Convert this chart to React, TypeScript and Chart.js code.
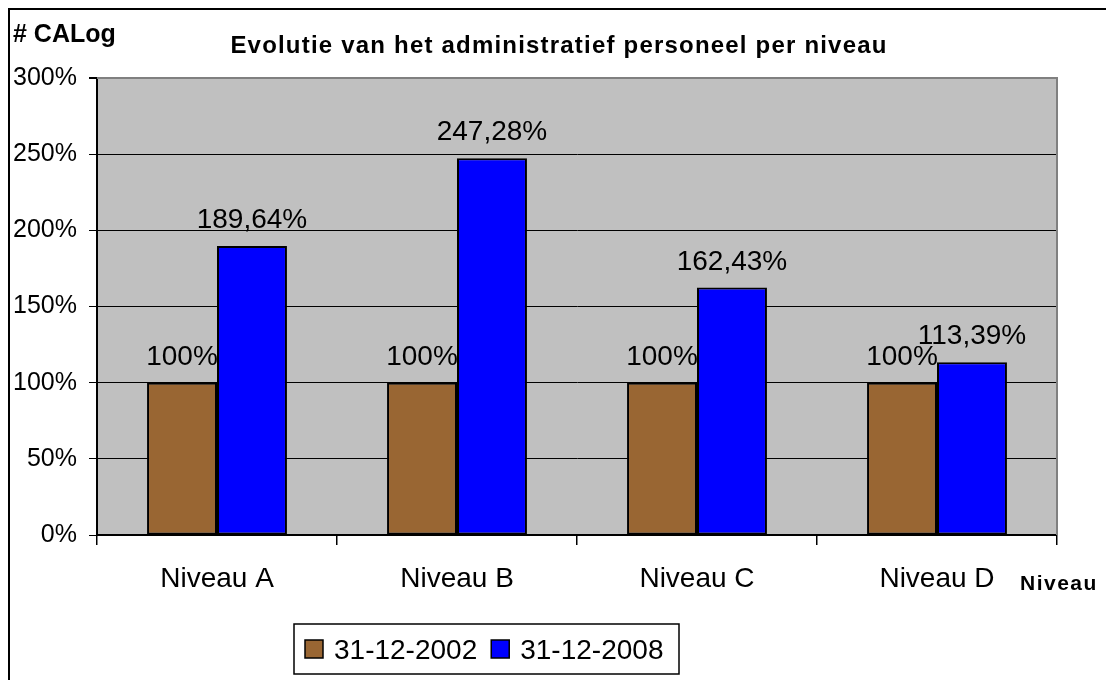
import React, { useEffect, useRef } from "react";
import { Chart, registerables } from "chart.js";

Chart.register(...registerables);

const categories = ["Niveau A", "Niveau B", "Niveau C", "Niveau D"];
const seriesLabels = ["31-12-2002", "31-12-2008"];
const values2002 = [100, 100, 100, 100];
const values2008 = [189.64, 247.28, 162.43, 113.39];
const seriesColors = ["#996633", "#0000ff"];
const chartTitle = "Evolutie van het administratief personeel per niveau";
const yAxisTitle = "# CALog";
const xAxisTitle = "Niveau";

const FONT = "'Liberation Sans', Arial, sans-serif";

const fmt = (v: number) =>
  (Number.isInteger(v) ? String(v) : v.toFixed(2).replace(".", ",")) + "%";

const decorPlugin = {
  id: "decor",
  beforeDraw(chart: any) {
    const { ctx, chartArea: a } = chart;
    ctx.save();
    ctx.fillStyle = "#ffffff";
    ctx.fillRect(0, 0, chart.width, chart.height);
    ctx.strokeStyle = "#000";
    ctx.lineWidth = 2;
    ctx.beginPath();
    ctx.moveTo(9, chart.height);
    ctx.lineTo(9, 9);
    ctx.lineTo(chart.width, 9);
    ctx.stroke();
    ctx.fillStyle = "#c0c0c0";
    ctx.fillRect(a.left, a.top, a.right - a.left, a.bottom - a.top);
    ctx.restore();
  },
  beforeDatasetsDraw(chart: any) {
    const { ctx, chartArea: a } = chart;
    ctx.save();
    ctx.strokeStyle = "#808080";
    ctx.lineWidth = 2;
    ctx.beginPath();
    ctx.moveTo(a.left, a.top);
    ctx.lineTo(a.right, a.top);
    ctx.lineTo(a.right, a.bottom);
    ctx.stroke();
    ctx.restore();
  },
  afterDatasetsDraw(chart: any) {
    const { ctx } = chart;
    ctx.save();
    ctx.fillStyle = "#000";
    ctx.font = `28px ${FONT}`;
    ctx.textAlign = "center";
    ctx.textBaseline = "alphabetic";
    chart.data.datasets.forEach((ds: any, i: number) => {
      const meta = chart.getDatasetMeta(i);
      meta.data.forEach((el: any, j: number) => {
        ctx.fillText(fmt(ds.data[j]), el.x, el.y - 18);
      });
    });
    ctx.restore();
  },
  afterDraw(chart: any) {
    const { ctx } = chart;
    ctx.save();
    ctx.fillStyle = "#000";
    ctx.textBaseline = "alphabetic";
    ctx.font = `bold 24px ${FONT}`;
    ctx.textAlign = "center";
    (ctx as any).letterSpacing = "1.2px";
    ctx.fillText(chartTitle, 559, 53);
    (ctx as any).letterSpacing = "0px";
    ctx.textAlign = "left";
    ctx.font = `bold 25px ${FONT}`;
    ctx.fillText(yAxisTitle, 13, 42);
    ctx.font = `bold 21px ${FONT}`;
    (ctx as any).letterSpacing = "1.5px";
    ctx.fillText(xAxisTitle, 1020, 590);
    (ctx as any).letterSpacing = "0px";
    // legend
    const lx = 294, ly = 624, lw = 385, lh = 50;
    ctx.strokeStyle = "#000";
    ctx.lineWidth = 1.5;
    ctx.strokeRect(lx, ly, lw, lh);
    ctx.font = `28px ${FONT}`;
    let x = lx + 11;
    chart.data.datasets.forEach((ds: any) => {
      ctx.fillStyle = ds.backgroundColor;
      ctx.fillRect(x, 640, 18, 18);
      ctx.strokeStyle = "#000";
      ctx.lineWidth = 1.5;
      ctx.strokeRect(x, 640, 18, 18);
      ctx.fillStyle = "#000";
      ctx.fillText(ds.label, x + 29, 659);
      x += 29 + ctx.measureText(ds.label).width + 14;
    });
    ctx.restore();
  },
};

export default function App() {
  const ref = useRef<HTMLCanvasElement | null>(null);
  useEffect(() => {
    if (!ref.current) return;
    const chart = new Chart(ref.current, {
      type: "bar",
      data: {
        labels: categories,
        datasets: [
          {
            label: seriesLabels[0],
            data: values2002,
            backgroundColor: seriesColors[0],
            borderColor: "#000",
            borderWidth: 2,
            borderSkipped: false,
            categoryPercentage: 0.583,
            barPercentage: 1,
          },
          {
            label: seriesLabels[1],
            data: values2008,
            backgroundColor: seriesColors[1],
            borderColor: "#000",
            borderWidth: 2,
            borderSkipped: false,
            categoryPercentage: 0.583,
            barPercentage: 1,
          },
        ],
      },
      options: {
        animation: false,
        responsive: false,
        devicePixelRatio: 1,
        layout: { padding: { top: 78, right: 49, bottom: 0, left: 0 } },
        plugins: {
          legend: { display: false },
          title: { display: false },
          tooltip: { enabled: false },
        },
        scales: {
          x: {
            offset: true,
            afterFit: (s: any) => {
              s.height = 145;
            },
            grid: {
              offset: true,
              drawOnChartArea: false,
              drawTicks: true,
              tickLength: 10,
              color: "#000",
              lineWidth: 1.5,
            },
            border: { color: "#000", width: 2 },
            ticks: {
              color: "#000",
              font: { family: FONT, size: 28 },
              padding: 17,
              maxRotation: 0,
            },
          },
          y: {
            min: 0,
            max: 300,
            afterFit: (s: any) => {
              s.width = 97;
            },
            grid: {
              color: (c: any) => (c.tick && c.tick.value === 300 ? "#808080" : "#000"),
              lineWidth: (c: any) => (c.tick && c.tick.value === 300 ? 2 : 1),
              tickColor: "#000",
              tickLength: 8,
            },
            border: { color: "#000", width: 2 },
            ticks: {
              stepSize: 50,
              color: "#000",
              font: { family: FONT, size: 25 },
              padding: 12,
              callback: (v: any) => v + "%",
            },
          },
        },
      },
      plugins: [decorPlugin],
    });
    return () => chart.destroy();
  }, []);
  return (
    <div style={{ position: "fixed", left: 0, top: 0, width: 1106, height: 680 }}>
      <canvas ref={ref} width={1106} height={680} style={{ display: "block" }} />
    </div>
  );
}
